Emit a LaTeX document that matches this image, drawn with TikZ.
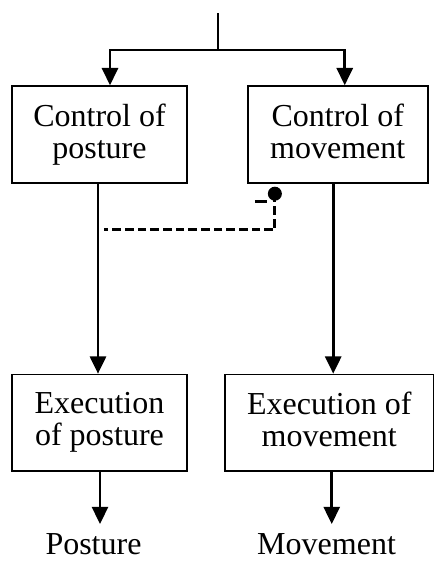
\documentclass[tikz,border=0pt]{standalone}
\usepackage{fontspec}
\setmainfont{Liberation Serif}
\usepackage{tikz}
\usetikzlibrary{arrows.meta, positioning, calc}

\begin{document}
\begin{tikzpicture}[
	x=0.75pt, y=-0.75pt,
	ctrlbox/.style={rectangle, draw=black, line width=1.3pt, align=center, minimum height=72.5pt, inner sep=2pt, text depth=5.5pt, font=\fontsize{24}{24}\selectfont},
	outtext/.style={inner sep=0pt, font=\fontsize{24}{24}\selectfont},
	knobdot/.style={circle, fill=black, inner sep=0pt, minimum size=10.5pt},
	arrow/.style={-{Triangle[length=13pt, width=12pt]}, line width=2.2pt},
	wire/.style={line width=2.2pt},
	dashwire/.style={line width=2.2pt, dash pattern=on 6.5pt off 3pt}
]
\useasboundingbox (0,0) rectangle (434,562);

% Control level
\node[ctrlbox, minimum width=131.25pt] (CP) at (99.5,134.5) {Control of\\posture};
\node[ctrlbox, minimum width=135pt] (CM) [right=44.25pt of CP] {Control of\\movement};

% Execution level
\node[ctrlbox, minimum width=131.25pt] (EP) [below=142.5pt of CP] {Execution\\of posture};
\node[ctrlbox, minimum width=156.75pt] (EM) [right=27pt of EP] {Execution of\\movement};

% Outputs
\node[outtext] (Pos) [below=46pt of EP, xshift=-4.5pt] {Posture};
\node[outtext] (Mov) [below=46pt of EM, xshift=-2pt] {Movement};

% Input split
\coordinate (in) at (218,13);
\coordinate (split) at (218,50);
\coordinate (cpin) at ($(CP.north)+(10.5,0)$);
\coordinate (cmin) at ($(CM.north)+(7,0)$);
\draw[wire] (in) -- (split);
\draw[arrow] (split) -| (cpin);
\draw[arrow] (split) -| (cmin);

% Control to execution
\coordinate (cpout) at ($(CP.south)+(-1.5,0)$);
\coordinate (cmout) at ($(CM.south)+(-4.5,0)$);
\draw[arrow] (cpout) -- (cpout |- EP.north);
\draw[arrow] (cmout) -- (cmout |- EM.north);

% Interaction
\node[knobdot] (knob) at ($(CM.south west)+(28,10)$) {};
\coordinate (tap) at ($(CP.south)+(4.5,46)$);
\draw[dashwire] (knob.center) |- (tap);
\coordinate (tickL) at ($(knob)+(-20,8)$);
\coordinate (tickR) at ($(knob)+(-8,8)$);
\draw[wire] (tickL) -- (tickR);

% Execution to outputs
\coordinate (epout) at ($(EP.south)+(0.5,0)$);
\coordinate (emout) at ($(EM.south)+(2.5,0)$);
\draw[arrow, shorten >=7pt] (epout) -- (epout |- Pos.north);
\draw[arrow, shorten >=7pt] (emout) -- (emout |- Mov.north);
\end{tikzpicture}
\end{document}
